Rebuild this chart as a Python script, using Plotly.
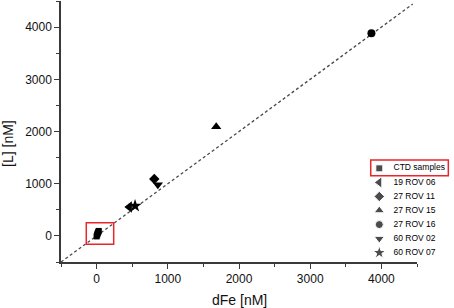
import plotly.graph_objects as go

# ---- data ----
ctd_x = [0, 5, 10, 15, 20, 25, 30]
ctd_y = [-10, 10, 30, 50, 65, 80, 95]

rov_names = ["19 ROV 06", "27 ROV 11", "27 ROV 15", "27 ROV 16", "60 ROV 02", "60 ROV 07"]
rov_x = [460, 810, 1680, 3860, 860, 540]
rov_y = [555, 1090, 2090, 3880, 980, 575]
rov_symbols = ["triangle-left", "diamond", "triangle-up", "circle", "triangle-down", "star"]

line_x = [-500, 4440]
line_y = [-500, 4440]

legend_names = ["CTD samples"] + rov_names
legend_symbols = ["square"] + rov_symbols

x_ticks = [0, 1000, 2000, 3000, 4000]
y_ticks = [0, 1000, 2000, 3000, 4000]

FONT = "Liberation Sans, Arial, sans-serif"
AX = "#3a3a3a"
SIZES = {"square": 7, "triangle-left": 10, "diamond": 8, "triangle-up": 9,
         "circle": 8, "triangle-down": 9, "star": 10}

fig = go.Figure()

# 1:1 dashed line
fig.add_trace(go.Scatter(x=line_x, y=line_y, mode="lines",
                         line=dict(color="#4a4a4a", width=1.3, dash="3px,2.5px"),
                         showlegend=False, hoverinfo="skip"))

# CTD samples
fig.add_trace(go.Scatter(x=ctd_x, y=ctd_y, mode="markers",
                         marker=dict(symbol="square", size=6, color="black"),
                         showlegend=False))

# ROV samples
for n, xv, yv, s in zip(rov_names, rov_x, rov_y, rov_symbols):
    fig.add_trace(go.Scatter(x=[xv], y=[yv], mode="markers", name=n,
                             marker=dict(symbol=s, size=SIZES[s], color="black"),
                             showlegend=False))

# custom legend on auxiliary axes
leg_marker_x = 9.3
leg_text_x = 23.5
fig.add_trace(go.Scatter(x=[leg_marker_x] * len(legend_names), y=legend_names,
                         mode="markers", xaxis="x2", yaxis="y2",
                         marker=dict(symbol=legend_symbols,
                                     size=[SIZES[s] for s in legend_symbols], color="black"),
                         showlegend=False, hoverinfo="skip", cliponaxis=False))
fig.add_trace(go.Scatter(x=[leg_text_x] * len(legend_names), y=legend_names,
                         mode="text", text=legend_names, textposition="middle right",
                         textfont=dict(family=FONT, size=8.5, color="black"),
                         xaxis="x2", yaxis="y2",
                         showlegend=False, hoverinfo="skip", cliponaxis=False))

axis_common = dict(showline=True, linecolor=AX, linewidth=1.5, mirror=False,
                   showgrid=False, zeroline=False, ticks="outside", ticklen=5,
                   tickwidth=1.2, tickcolor=AX,
                   tickfont=dict(family=FONT, size=12, color="#111"),
                   minor=dict(dtick=500, ticks="outside", ticklen=3, tickwidth=1.2,
                              tickcolor=AX, showgrid=False))

fig.update_layout(
    width=454, height=308,
    margin=dict(l=61, r=37, t=1, b=46),
    paper_bgcolor="white", plot_bgcolor="white",
    xaxis=dict(range=[-500, 4500], tickvals=x_ticks, **axis_common),
    yaxis=dict(range=[-500, 4500], tickvals=y_ticks, **axis_common),
    xaxis2=dict(domain=[0.868, 1.0], range=[0, 47], visible=False, anchor="y2"),
    yaxis2=dict(domain=[0.0088, 0.3858], type="category", categoryorder="array",
                categoryarray=legend_names, range=[6.5, -0.5], visible=False, anchor="x2"),
    showlegend=False,
    shapes=[
        dict(type="rect", xref="x", yref="y", x0=-145, x1=240, y0=-159, y1=253,
             line=dict(color="#e8262b", width=1.5), fillcolor="rgba(0,0,0,0)"),
        dict(type="rect", xref="paper", yref="paper", x0=0.870, x1=1.088,
             y0=0.3307, y1=0.3908,
             line=dict(color="#e8262b", width=1.5), fillcolor="rgba(0,0,0,0)"),
    ],
    annotations=[
        dict(text="dFe [nM]", xref="paper", yref="paper", x=0.5, y=-0.1456,
             xanchor="center", yanchor="middle", showarrow=False,
             font=dict(family=FONT, size=14, color="#111")),
        dict(text="[L] [nM]", xref="paper", yref="paper", x=-0.149, y=0.456,
             xanchor="center", yanchor="middle", showarrow=False, textangle=-90,
             font=dict(family=FONT, size=14, color="#111")),
    ],
)

fig.write_html("out.html", config={"displayModeBar": False},
               post_script="document.body.style.margin='0';document.body.style.overflow='hidden';")
